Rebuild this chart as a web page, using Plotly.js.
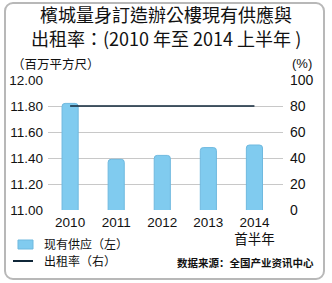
<!DOCTYPE html>
<html><head><meta charset="utf-8">
<script src="https://cdn.plot.ly/plotly-3.0.1.min.js"></script>
<style>
html,body{margin:0;padding:0;background:#fff;}
#wrap{position:relative;width:332px;height:283px;overflow:hidden;}
#chart{width:332px;height:283px;}
#frame{position:absolute;left:4px;top:2px;width:317px;height:274px;border:2px solid #b8b8b8;border-radius:9px;pointer-events:none;}
</style></head>
<body><div id="wrap"><div id="chart"></div><div id="frame"></div></div>
<script>
const categories = ["2010", "2011", "2012", "2013", "2014<br>首半年"];
const supply = [11.82, 11.39, 11.42, 11.48, 11.50];
const occupancy = [80, 80, 80, 80, 80];
const leftTicks = [11.0, 11.2, 11.4, 11.6, 11.8, 12.0];
const leftTickText = ["11.00", "11.20", "11.40", "11.60", "11.80", "12.00"];
const rightTicks = [0, 20, 40, 60, 80, 100];
const seriesNames = ["现有供应（左）", "出租率（右）"];

const cjk = '"Liberation Sans", Arial, "Noto Sans CJK TC", sans-serif';
const cjkSC = '"Noto Sans CJK SC", sans-serif';
const idx = categories.map((c, i) => i);
const barColor = '#80CBEF', barLine = '#6fb9df', lineColor = '#0f2638';

const traces = [
  {type: 'bar', x: idx, y: supply, name: seriesNames[0], width: 0.35,
   marker: {color: barColor, line: {color: barLine, width: 1}, cornerradius: 3},
   yaxis: 'y'},
  {type: 'scatter', mode: 'lines', x: idx, y: occupancy, name: seriesNames[1],
   line: {color: lineColor, width: 1.5}, yaxis: 'y2'}
];

const layout = {
  width: 332, height: 283,
  margin: {l: 48, r: 49, t: 80, b: 73},
  paper_bgcolor: '#fff', plot_bgcolor: '#fff',
  font: {family: cjk, size: 13, color: '#111'},
  showlegend: false,
  xaxis: {range: [-0.48, 4.62], tickvals: idx, ticktext: categories, showgrid: false,
          zeroline: false, showline: false, ticks: '', ticklabelstandoff: 2, tickangle: 0,
          tickfont: {size: 13.5, family: cjk}},
  yaxis: {range: [11.0, 12.0], tickvals: leftTicks, ticktext: leftTickText, showgrid: true,
          gridcolor: '#c8c8c8', gridwidth: 1, zeroline: false, showline: false, ticks: '',
          ticklabelstandoff: 4, tickfont: {size: 13.5}},
  yaxis2: {range: [0, 100], tickvals: rightTicks, overlaying: 'y', side: 'right', showgrid: false,
           zeroline: false, showline: false, ticks: '', ticklabelstandoff: 6, tickfont: {size: 14}},
  shapes: [
    {type: 'rect', xref: 'paper', yref: 'paper', x0: -0.1277, x1: -0.0638, y0: -0.30, y1: -0.2308,
     fillcolor: barColor, line: {color: barLine, width: 1}},
    {type: 'line', xref: 'paper', yref: 'paper', x0: -0.149, x1: -0.0638, y0: -0.3923, y1: -0.3923,
     line: {color: lineColor, width: 2}}
  ],
  annotations: [
    {text: '檳城量身訂造辦公樓現有供應與', xref: 'paper', yref: 'paper',
     x: 0.5, y: 1.508, xanchor: 'center', yanchor: 'middle', showarrow: false,
     font: {size: 18, family: '"Noto Sans CJK TC", sans-serif', color: '#111'}},
    {text: '出租率：(2010 年至 2014 上半年 )', xref: 'paper', yref: 'paper',
     x: 0.5, y: 1.32, xanchor: 'center', yanchor: 'middle', showarrow: false,
     font: {size: 18, family: '"Noto Sans CJK TC", sans-serif', color: '#111'}},
    {text: '（百万平方尺）', xref: 'paper', yref: 'paper', x: -0.16, y: 1.125, xanchor: 'left', yanchor: 'middle',
     showarrow: false, font: {size: 12.5, family: cjkSC, color: '#111'}},
    {text: '(%)', xref: 'paper', yref: 'paper', x: 1.03, y: 1.13, xanchor: 'left', yanchor: 'middle',
     showarrow: false, font: {size: 13, color: '#111'}},
    {text: seriesNames[0], xref: 'paper', yref: 'paper', x: -0.0255, y: -0.2615, xanchor: 'left', yanchor: 'middle',
     showarrow: false, font: {size: 12, family: cjkSC, color: '#111'}},
    {text: seriesNames[1], xref: 'paper', yref: 'paper', x: -0.0255, y: -0.3923, xanchor: 'left', yanchor: 'middle',
     showarrow: false, font: {size: 12, family: cjkSC, color: '#111'}},
    {text: '<b>数据来源：全国产业资讯中心</b>', xref: 'paper', yref: 'paper', x: 1.14, y: -0.4,
     xanchor: 'right', yanchor: 'middle', showarrow: false,
     font: {size: 10.5, family: cjkSC, color: '#111'}}
  ]
};
Plotly.newPlot('chart', traces, layout, {displayModeBar: false, staticPlot: true});
</script></body></html>
